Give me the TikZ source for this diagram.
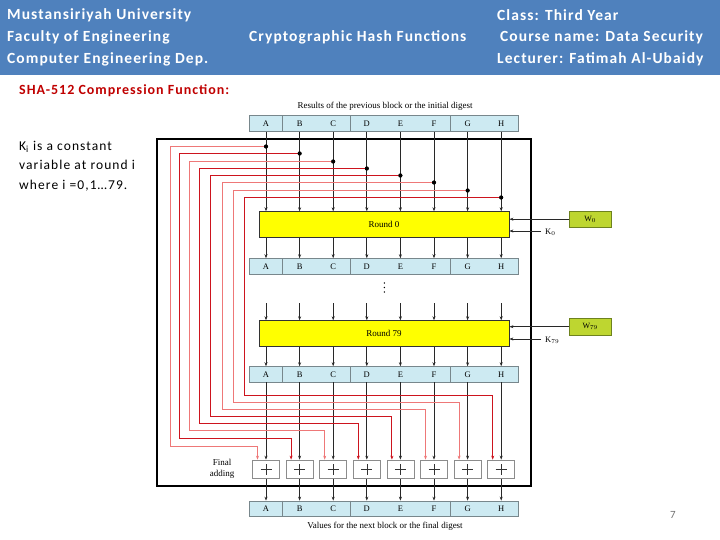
\documentclass[tikz,border=0pt]{standalone}
\usepackage{fontspec}
\setmainfont{Carlito}
\newfontfamily\serifdiag{Liberation Serif}
\newfontfamily\hdrfont{Carlito}[LetterSpace=7]
\newfontfamily\kifont{Carlito}[LetterSpace=8]
\usetikzlibrary{arrows.meta}
\definecolor{hdrblue}{RGB}{79,129,189}
\definecolor{regfill}{RGB}{205,234,242}
\definecolor{regline}{RGB}{120,135,140}
\definecolor{roundfill}{RGB}{255,255,0}
\definecolor{wfill}{RGB}{190,214,48}
\definecolor{wline}{RGB}{110,130,30}
\definecolor{titlered}{RGB}{192,0,0}
\definecolor{darkred}{RGB}{205,20,30}
\definecolor{lightred}{RGB}{238,120,120}
\definecolor{wirecol}{RGB}{40,40,40}
\tikzset{
  hdr/.style={anchor=west,text=white,font=\hdrfont\fontsize{15.5}{17}\selectfont\bfseries,inner sep=0pt},
  regbox/.style={draw=regline,fill=regfill,minimum width=269pt,minimum height=15.5pt,inner sep=0pt,line width=0.6pt},
  reglab/.style={font=\serifdiag\fontsize{8.5}{9}\selectfont,inner sep=0pt},
  roundbox/.style={draw=black!80,fill=roundfill,minimum width=250pt,minimum height=26pt,inner sep=0pt,line width=0.8pt,
     font=\serifdiag\fontsize{9}{10}\selectfont},
  addbox/.style={draw=black!45,fill=white,minimum width=27pt,minimum height=18.7pt,inner sep=0pt,line width=0.6pt},
  wbox/.style={draw=wline,fill=wfill,minimum width=41.7pt,minimum height=16.3pt,inner sep=0pt,line width=0.7pt,
     font=\serifdiag\fontsize{8}{9}\selectfont},
  colarrow/.style={draw=wirecol,line width=0.9pt,-{Stealth[length=4pt,width=3pt]}},
  redA/.style={draw=lightred,line width=1pt,-{Stealth[length=4pt,width=3pt]}},
  redB/.style={draw=darkred,line width=1pt,-{Stealth[length=4pt,width=3pt]}},
  tap/.style={circle,fill=black,inner sep=0pt,minimum size=4pt},
  vdot/.style={circle,fill=black,inner sep=0pt,minimum size=1.6pt},
  difont/.style={font=\serifdiag\fontsize{9}{10}\selectfont,inner sep=0pt},
}
\begin{document}
\begin{tikzpicture}[x=1pt,y=-1pt]
\useasboundingbox (0,0) rectangle (720,540);
\fill[white] (0,0) rectangle (720,540);
% header
\fill[hdrblue] (0,0) rectangle (720,75);
\node[hdr] (h1) at (7,15.5) {Mustansiriyah University};
\node[hdr] (h2) at (7,37.5) {Faculty of Engineering};
\node[hdr] (h3) at (7,59.5) {Computer Engineering Dep.};
\node[hdr] (h4) at (249,37.5) {Cryptographic Hash Functions};
\node[hdr] (h5) at (497,15.5) {Class: Third Year};
\node[hdr] (h6) at (500,37.5) {Course name: Data Security};
\node[hdr] (h7) at (497,59.5) {Lecturer: Fatimah Al-Ubaidy};
% side texts
\node[anchor=west,inner sep=0pt,text=titlered,font=\hdrfont\fontsize{14}{15}\selectfont\bfseries] (sha) at (19,91) {SHA-512 Compression Function:};
\node[anchor=north west,inner sep=0pt,align=left,font=\kifont\fontsize{13.5}{19.5}\selectfont] (ki) at (19,141)
  {K\textsubscript{i} is a constant\\variable at round i\\where i =0,1\dots79.};
\node[text=black!55,font=\fontsize{11}{12}\selectfont,inner sep=0pt] (pg) at (673,515) {7};
% frame
\draw[black,line width=2pt] (157,139.3) rectangle (531,486);
% labels
\node[difont] (toplab) at (385,106) {Results of the previous block or the initial digest};
\node[difont] (botlab) at (385,526) {Values for the next block or the final digest};
% registers
\node[regbox] (r1) at (383.5,123.5) {};
\node[regbox] (r2) at (383.5,266.3) {};
\node[regbox] (r3) at (383.5,374.3) {};
\node[regbox] (r4) at (383.5,508.7) {};
\foreach \r in {r1,r2,r3,r4}{
  \foreach \dx in {282.6,350,450.6}{
    \draw[regline,line width=0.6pt] (\r.north -| {(\dx,0)}) -- (\r.south -| {(\dx,0)});
  }
}
\foreach \L [count=\i] in {A,B,C,D,E,F,G,H}{
  \pgfmathsetmacro{\cx}{266+33.6*(\i-1)}
  \node[reglab] (a\i) at (\cx,123.5) {\L};
  \node[reglab] (b\i) at (\cx,266.3) {\L};
  \node[reglab] (c\i) at (\cx,374.3) {\L};
  \node[reglab] (d\i) at (\cx,508.7) {\L};
}
% rounds
\node[roundbox] (rd0) at (384,224.7) {Round 0};
\node[roundbox] (rd79) at (384,333.7) {Round 79};
\node[vdot] (vd1) at (384.3,283) {};
\node[vdot] (vd2) at (384.3,287.5) {};
\node[vdot] (vd3) at (384.3,292) {};
% adders
\foreach \i in {1,...,8}{
  \pgfmathsetmacro{\cx}{266+33.6*(\i-1)}
  \node[addbox] (ad\i) at (\cx,469.3) {};
  \draw[black!80,line width=0.6pt] ([xshift=-5.5pt]ad\i.center) -- ([xshift=5.5pt]ad\i.center);
  \draw[black!80,line width=0.6pt] ([yshift=-5.5pt]ad\i.center) -- ([yshift=5.5pt]ad\i.center);
  \coordinate (s\i) at (\cx,303.3);
}
\node[difont,align=center,font=\serifdiag\fontsize{9}{11}\selectfont] (fa) at (222,468.5) {Final\\adding};
% column arrows
\foreach \i in {1,...,8}{
  \draw[colarrow] (r1.south -| a\i) -- (rd0.north -| a\i);
  \draw[colarrow] (rd0.south -| a\i) -- (r2.north -| a\i);
  \draw[colarrow] (s\i) -- (rd79.north -| a\i);
  \draw[colarrow] (rd79.south -| a\i) -- (r3.north -| a\i);
  \draw[colarrow] (r3.south -| a\i) -- (ad\i.north);
  \draw[colarrow] (ad\i.south) -- (r4.north -| a\i);
}
% feed-forward red lines
\foreach \i/\ty/\lx/\by/\st in {1/146.5/170.5/446.5/redA,2/153.5/179.5/438.5/redB,3/161.5/189.5/430.5/redA,4/168.5/199.5/423.5/redB,
                           5/175.5/210.5/416.5/redB,6/182.5/222.5/409.5/redA,7/190.5/233.5/402.5/redA,8/197.5/244.5/395.5/redB}{
  \pgfmathsetmacro{\cx}{266+33.6*(\i-1)}
  \node[tap] (tp\i) at (\cx,\ty) {};
  \draw[\st] (tp\i.center) -- (\lx,\ty) -- (\lx,\by) -- ({\cx-8.5},\by) -- ([xshift=-8.5pt]ad\i.north);
}
\foreach \i in {1,...,8}{\node[tap] at (tp\i) {};}
% right inputs
\node[wbox] (w0) at (590.2,219.2) {W$_0$};
\node[wbox] (w79) at (590.2,326.7) {W$_{79}$};
\coordinate (k0) at (541,231);
\coordinate (k79) at (541,339);
\node[anchor=west,font=\serifdiag\fontsize{8.5}{9}\selectfont,inner sep=0pt] (k0l) at (545,232) {K$_0$};
\node[anchor=west,font=\serifdiag\fontsize{8.5}{9}\selectfont,inner sep=0pt] (k79l) at (545,340) {K$_{79}$};
\draw[colarrow] (w0.west) -- (rd0.east |- w0.west);
\draw[colarrow] (k0) -- (rd0.east |- k0);
\draw[colarrow] (w79.west) -- (rd79.east |- w79.west);
\draw[colarrow] (k79) -- (rd79.east |- k79);
\end{tikzpicture}
\end{document}
